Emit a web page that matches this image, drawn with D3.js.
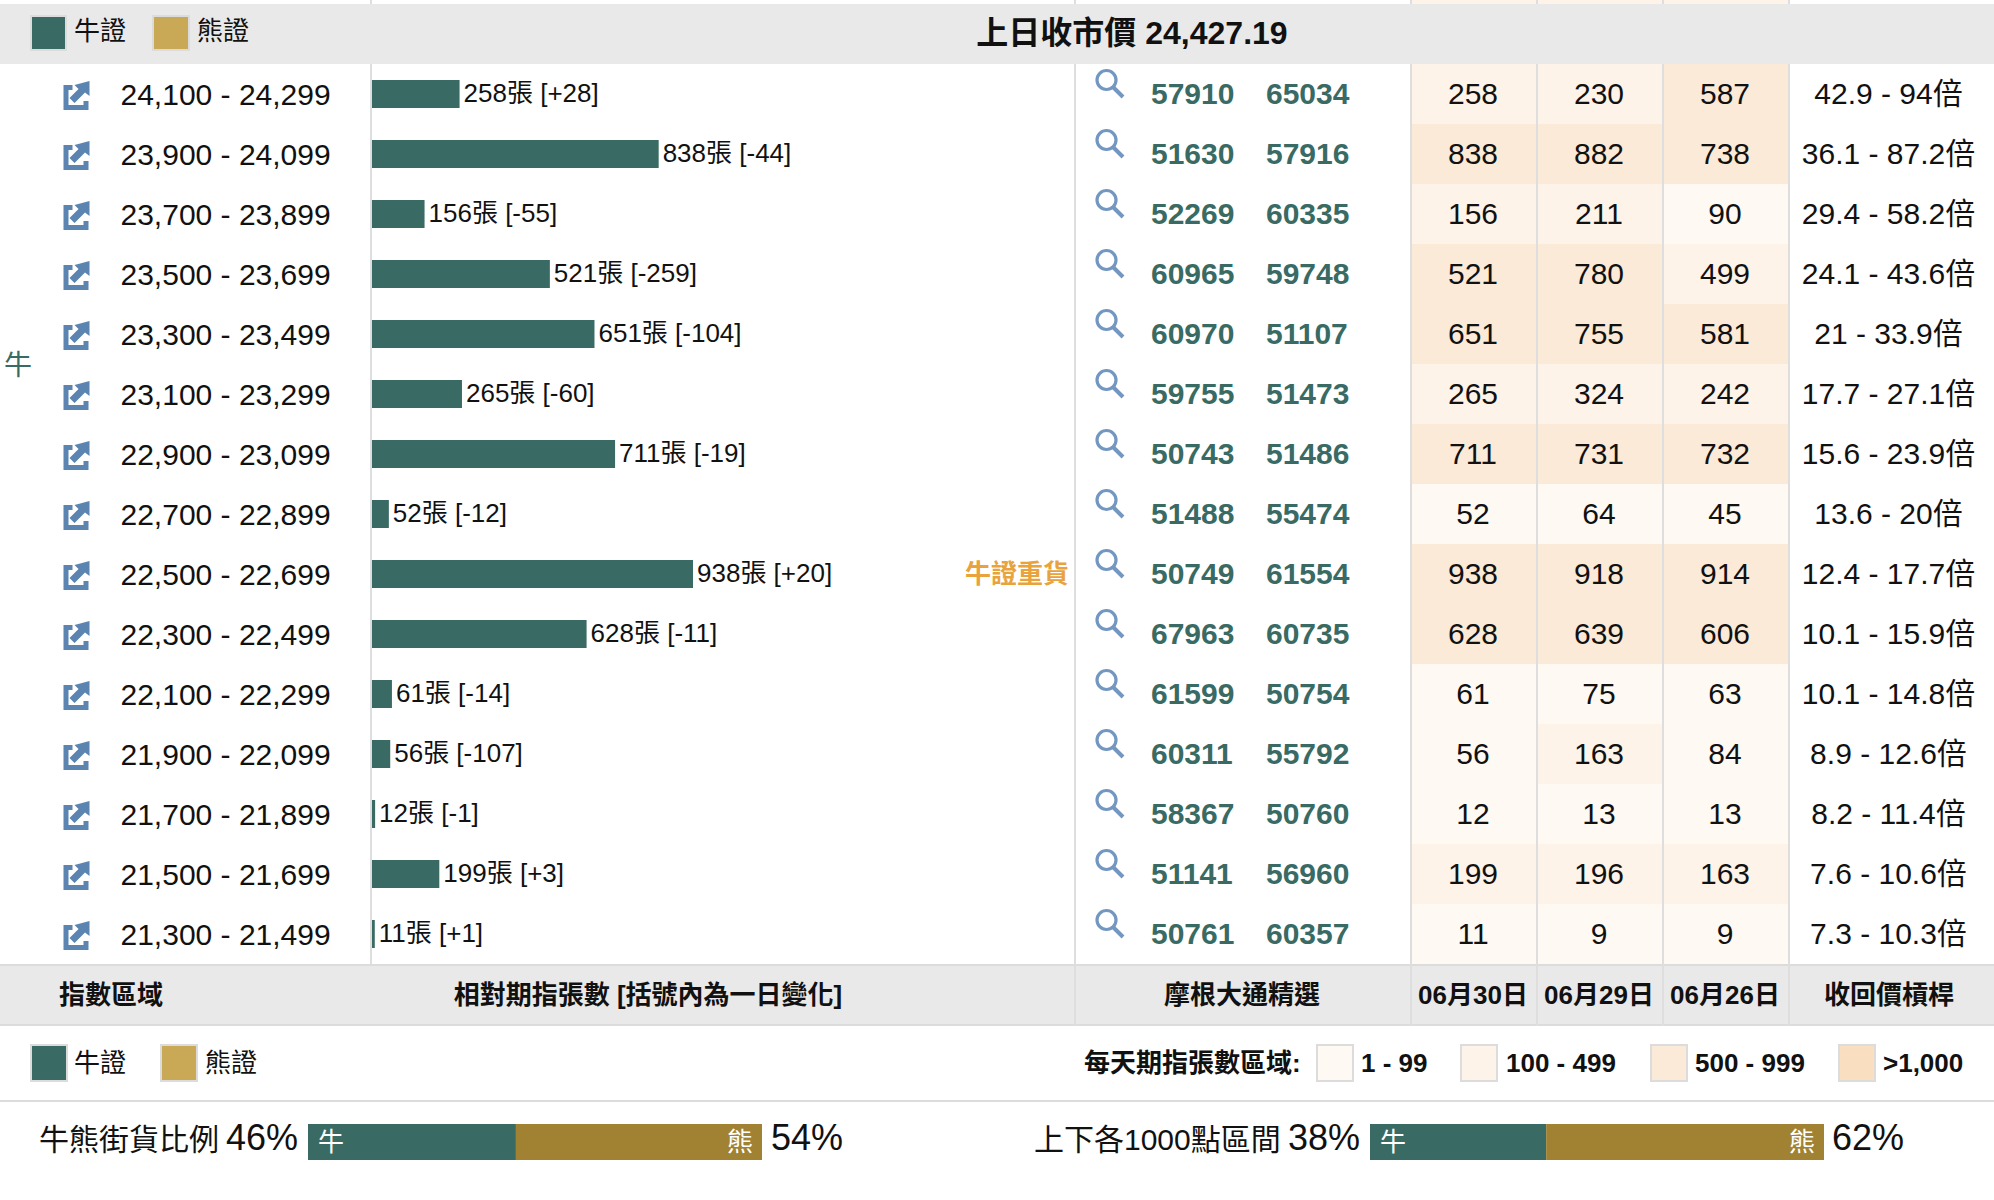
<!DOCTYPE html>
<html><head><meta charset="utf-8">
<script src="https://cdn.jsdelivr.net/npm/d3@7/dist/d3.min.js"></script>
<style>html,body{margin:0;background:#fff}svg{display:block}text{font-family:"Liberation Sans","Noto Sans CJK TC",sans-serif;fill:#111}</style>
</head><body><svg id="c" width="1994" height="1200"></svg>
<script>
const ranges=["24,100 - 24,299","23,900 - 24,099","23,700 - 23,899","23,500 - 23,699","23,300 - 23,499","23,100 - 23,299","22,900 - 23,099","22,700 - 22,899","22,500 - 22,699","22,300 - 22,499","22,100 - 22,299","21,900 - 22,099","21,700 - 21,899","21,500 - 21,699","21,300 - 21,499"];
const day1=[258,838,156,521,651,265,711,52,938,628,61,56,12,199,11];
const day2=[230,882,211,780,755,324,731,64,918,639,75,163,13,196,9];
const day3=[587,738,90,499,581,242,732,45,914,606,63,84,13,163,9];
const changes=["+28","-44","-55","-259","-104","-60","-19","-12","+20","-11","-14","-107","-1","+3","+1"];
const codesA=["57910","51630","52269","60965","60970","59755","50743","51488","50749","67963","61599","60311","58367","51141","50761"];
const codesB=["65034","57916","60335","59748","51107","51473","51486","55474","61554","60735","50754","55792","50760","56960","60357"];
const ratios=["42.9 - 94倍","36.1 - 87.2倍","29.4 - 58.2倍","24.1 - 43.6倍","21 - 33.9倍","17.7 - 27.1倍","15.6 - 23.9倍","13.6 - 20倍","12.4 - 17.7倍","10.1 - 15.9倍","10.1 - 14.8倍","8.9 - 12.6倍","8.2 - 11.4倍","7.6 - 10.6倍","7.3 - 10.3倍"];
const dates=["06月30日","06月29日","06月26日"];
const colorBands=["1 - 99","100 - 499","500 - 999",">1,000"];
const bandColors=["#fef9f3","#fdf3e9","#faead7","#f9dfbf"];
const bandLimits=[100,500,1000];
const heavyRow="22,500 - 22,699";
const shareLabels=["牛熊街貨比例","上下各1000點區間"];
const shareBull=[46,38];
const shareBear=[54,62];
const shareDrawn=[45.8,38.8];

const TEAL="#396b64",GOLD="#c9a955",GOLD2="#a08232",BAND="#e9e9e9",LINE="#dedede";
const svg=d3.select("#c");
const y=d3.scaleBand().domain(ranges).range([64,964]);
const x=d3.scaleLinear().domain([0,938]).range([372,694]);
const colX=d3.scaleBand().domain(dates).range([1410,1788]);
const cellX=d3.scaleBand().domain(dates).range([1411,1789]);
const cellColor=d3.scaleThreshold().domain(bandLimits).range(bandColors);
const txt=(g,s,xx,yy,o={})=>g.append("text").attr("x",xx).attr("y",yy).attr("dominant-baseline","central")
  .attr("text-anchor",o.a||"start").attr("font-size",o.s||26).attr("font-weight",o.b?"bold":"normal").style("fill",o.c||"#111").text(s);

const days=[day1,day2,day3];
dates.forEach((d,i)=>{
  const g=svg.append("g");
  g.selectAll("rect").data(ranges).join("rect").attr("x",cellX(d)).attr("y",r=>y(r)).attr("width",cellX.bandwidth()).attr("height",y.bandwidth())
    .attr("fill",(r,k)=>cellColor(days[i][k]));
  g.append("rect").attr("x",cellX(d)).attr("y",0).attr("width",cellX.bandwidth()).attr("height",6).attr("fill",bandColors[1]);
  ranges.forEach((r,k)=>txt(g,days[i][k],colX(d)+colX.bandwidth()/2,y(r)+29.5,{a:"middle",s:30}));
});
[371,1075,1411,1537,1663,1789].forEach(v=>svg.append("line").attr("x1",v).attr("x2",v).attr("y1",0).attr("y2",1026).attr("stroke",LINE).attr("stroke-width",2));
svg.append("rect").attr("x",0).attr("y",4).attr("width",1994).attr("height",60).attr("fill",BAND);
svg.append("rect").attr("x",0).attr("y",964).attr("width",1994).attr("height",62).attr("fill",BAND);
[[964,966],[1024,1026],[1100,1102]].forEach(l=>svg.append("rect").attr("x",0).attr("y",l[0]).attr("width",1994).attr("height",l[1]-l[0]).attr("fill","#dcdcdc"));
[1075,1411,1537,1663,1789].forEach(v=>svg.append("line").attr("x1",v).attr("x2",v).attr("y1",964).attr("y2",1026).attr("stroke",LINE).attr("stroke-width",2));

const topBand=svg.append("g");
const sw=(g,xx,yy,w,h,c,st)=>g.append("rect").attr("x",xx+1).attr("y",yy+1).attr("width",w-2).attr("height",h-2).attr("fill",c).attr("stroke",st).attr("stroke-width",2);
sw(topBand,30,15,37,36,TEAL,"#dcdcdc");txt(topBand,"牛證",74,31,{s:26});
sw(topBand,152,15,38,36,GOLD,"#dcdcdc");txt(topBand,"熊證",197,31,{s:26});
txt(topBand,"上日收市價 24,427.19",1132,33,{a:"middle",s:32,b:true});

const rows=svg.append("g");
rows.selectAll("rect").data(ranges).join("rect").attr("x",x(0)).attr("y",r=>y(r)+16).attr("height",28)
  .attr("width",(r,i)=>x(day1[i])-x(0)-1).attr("fill",TEAL);
ranges.forEach((r,i)=>{
  const Y=y(r);
  const ic=rows.append("g").attr("transform",`translate(63.5,${Y+17})`).attr("fill","none").attr("stroke","#5b84b1");
  ic.append("path").attr("d","M9 6.5H2.5V26.5H22.5V20").attr("stroke-width",5);
  ic.append("path").attr("d","M6 17L15 8L11 4L26 0V15L21.5 11.5L11 22Z").attr("fill","#5b84b1").attr("stroke","none");
  txt(rows,r,120.5,Y+30.5,{s:30});
  txt(rows,`${day1[i]}張 [${changes[i]}]`,x(day1[i])+3,Y+29,{s:26});
  const m=rows.append("g").attr("transform",`translate(1095.5,${Y+4})`).attr("fill","none");
  m.append("circle").attr("cx",11).attr("cy",12).attr("r",9.5).attr("stroke","#7397c0").attr("stroke-width",3.2);
  m.append("line").attr("x1",18).attr("y1",19.5).attr("x2",27.5).attr("y2",29).attr("stroke","#7397c0").attr("stroke-width",4);
  txt(rows,codesA[i],1151,Y+29,{s:30,b:true,c:TEAL});
  txt(rows,codesB[i],1266,Y+29,{s:30,b:true,c:TEAL});
  txt(rows,ratios[i],1888.5,Y+29,{a:"middle",s:30});
  if(r===heavyRow) txt(rows,"牛證重貨",1069,Y+30,{a:"end",s:26,b:true,c:"#e8a33d"});
});
txt(rows,"牛",4,365,{s:28,c:TEAL});

const bh=svg.append("g");
txt(bh,"指數區域",111,995,{a:"middle",b:true});
txt(bh,"相對期指張數 [括號內為一日變化]",648,995,{a:"middle",b:true});
txt(bh,"摩根大通精選",1242,995,{a:"middle",b:true});
dates.forEach(d=>txt(bh,d,colX(d)+colX.bandwidth()/2,995,{a:"middle",b:true}));
txt(bh,"收回價槓桿",1889,995,{a:"middle",b:true});

const lg=svg.append("g");
sw(lg,30,1044,38,38,TEAL,"#dcdcdc");txt(lg,"牛證",74,1063);
sw(lg,160,1044,38,38,GOLD,"#dcdcdc");txt(lg,"熊證",205,1063);
txt(lg,"每天期指張數區域:",1084,1063,{b:true});
const swX=d3.scaleOrdinal().domain(colorBands).range([1316,1460,1650,1838]);
const tX=d3.scaleOrdinal().domain(colorBands).range([1361,1506,1695,1883]);
colorBands.forEach((b,i)=>{sw(lg,swX(b),1044,38,38,bandColors[i],"#dcdcdc");txt(lg,b,tX(b),1063,{b:true});});

const sh=svg.append("g");
const shX=[[308,762],[1370,1824]],labX=[39,1034],pctL=[298,1360],pctR=[771,1832];
shareLabels.forEach((l,i)=>{
  const s=d3.scaleLinear().domain([0,100]).range(shX[i]);
  sh.append("rect").attr("x",s(0)).attr("y",1124).attr("width",s(shareDrawn[i])-s(0)).attr("height",36).attr("fill",TEAL);
  sh.append("rect").attr("x",s(shareDrawn[i])).attr("y",1124).attr("width",s(100)-s(shareDrawn[i])).attr("height",36).attr("fill",GOLD2);
  txt(sh,"牛",s(0)+10,1142,{c:"#fff"});
  txt(sh,"熊",s(100)-9,1142,{a:"end",c:"#fff"});
  txt(sh,l,labX[i],1139,{s:30});
  txt(sh,shareBull[i]+"%",pctL[i],1137,{a:"end",s:36});
  txt(sh,shareBear[i]+"%",pctR[i],1137,{s:36});
});
</script></body></html>
